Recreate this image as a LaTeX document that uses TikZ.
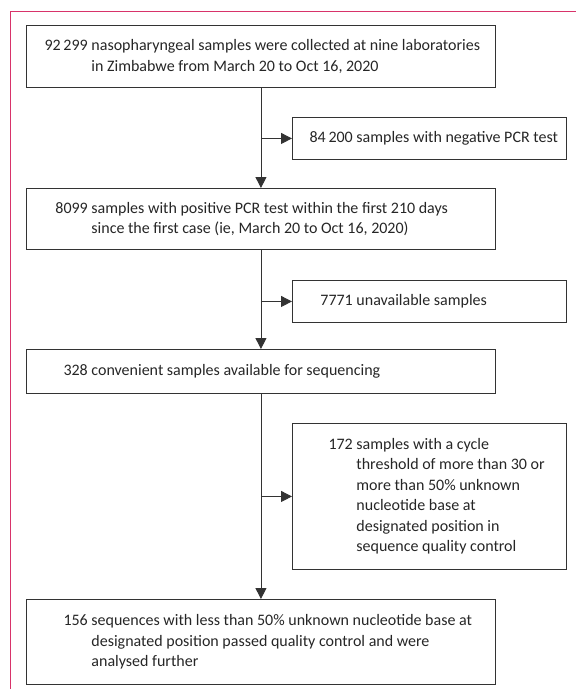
\documentclass[tikz,border=0pt]{standalone}
\usepackage{fontspec}
\setmainfont{Carlito}
\usetikzlibrary{arrows.meta}
\definecolor{framecol}{HTML}{D8336A}
\definecolor{linecol}{HTML}{333333}
\definecolor{textcol}{HTML}{262626}
\newcommand{\fctext}[4]{\parbox{#1}{\raggedright\leftskip=#2\relax\noindent\llap{#3\ }#4}}
\tikzset{
  fbox/.style={draw=linecol, line width=0.9pt, rectangle, inner sep=0pt, anchor=north west,
    text=textcol, font=\fontsize{16}{20.5}\selectfont},
  leftbox/.style={fbox, minimum width=469pt},
  rightbox/.style={fbox, minimum width=274pt},
  conn/.style={draw=linecol, line width=0.9pt},
  arr/.style={conn, -{Triangle[length=11pt,width=11pt]}},
}
\begin{document}
\begin{tikzpicture}[x=1pt,y=-1pt]
\useasboundingbox (0,0) rectangle (576,689);
\draw[framecol, line width=1pt] (10,689) -- (10,11) -- (576,11);

\node[leftbox, minimum height=62pt] (b1) at (26,25)
  {\fctext{461pt}{61pt}{92\,299}{nasopharyngeal samples were collected at nine laboratories\\ in Zimbabwe from March 20 to Oct 16, 2020}};
\node[rightbox, minimum height=42pt] (b2) at (292,117)
  {\fctext{266pt}{60pt}{84\,200}{samples with negative PCR test}};
\node[leftbox, minimum height=61pt] (b3) at (26,188)
  {\fctext{461pt}{61pt}{8099}{samples with positive PCR test within the first 210 days\\ since the first case (ie, March 20 to Oct 16, 2020)}};
\node[rightbox, minimum height=42pt] (b4) at (292,280)
  {\fctext{266pt}{60pt}{7771}{unavailable samples}};
\node[leftbox, minimum height=44pt] (b5) at (26,349)
  {\fctext{461pt}{61pt}{328}{convenient samples available for sequencing}};
\node[rightbox, minimum height=146pt] (b6) at (292,423)
  {\fctext{266pt}{60pt}{172}{samples with a cycle\\ threshold of more than 30 or\\ more than 50\% unknown\\ nucleotide base at\\ designated position in\\ sequence quality control}};
\node[leftbox, minimum height=85pt] (b7) at (26,599)
  {\fctext{461pt}{61pt}{156}{sequences with less than 50\% unknown nucleotide base at\\ designated position passed quality control and were\\ analysed further}};

\coordinate (j1) at (b1.south |- b2.west);
\coordinate (j2) at (b3.south |- b4.west);
\coordinate (j3) at (b5.south |- b6.west);

\draw[arr] (b1.south) -- (b3.north);
\draw[arr] (j1) -- (b2.west);
\draw[arr] (b3.south) -- (b5.north);
\draw[arr] (j2) -- (b4.west);
\draw[arr] (b5.south) -- (b7.north);
\draw[arr] (j3) -- (b6.west);
\end{tikzpicture}
\end{document}
